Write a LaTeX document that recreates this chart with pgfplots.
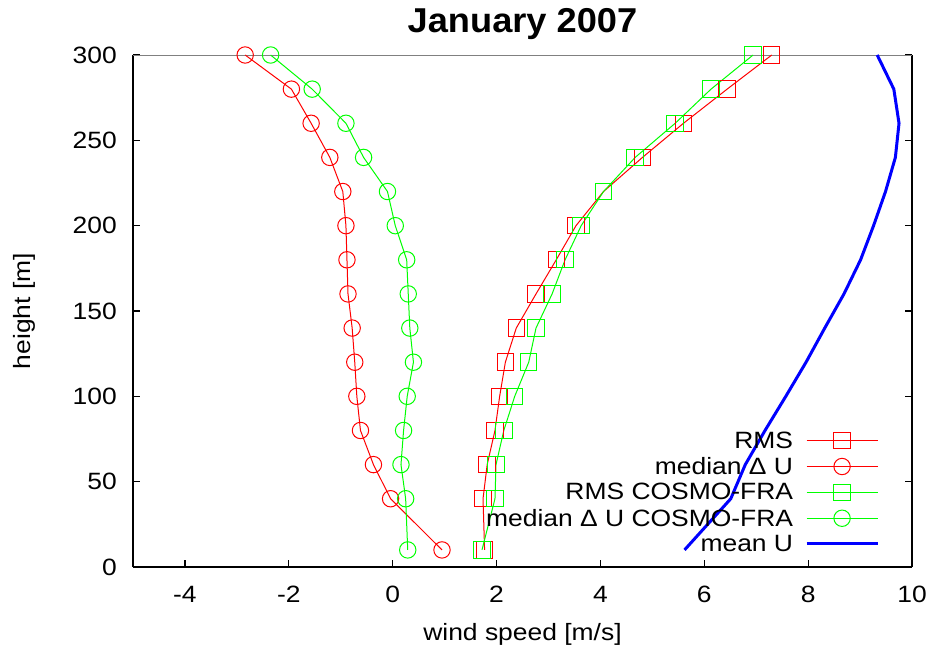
\documentclass[border=0pt]{standalone}
\usepackage{fontspec}
\setmainfont{Liberation Sans}[FakeStretch=1.12]
\newfontfamily\titlefont{Liberation Sans}[FakeStretch=1.05]
\usepackage{pgfplots}
\pgfplotsset{compat=1.18}
\usepackage{pgfplotstable}

% wind profile statistics, January 2007 (heights in m, speeds in m/s)
\pgfplotstableread{
h    medDU  medCF  rms   rmsCF  meanU
10    0.95   0.29  1.77  1.72   5.62
40   -0.04   0.25  1.74  1.97   6.51
60   -0.37   0.16  1.82  1.99   6.79
80   -0.62   0.21  1.97  2.14   7.17
100  -0.69   0.28  2.06  2.35   7.57
120  -0.73   0.40  2.17  2.62   7.96
140  -0.78   0.33  2.38  2.76   8.32
160  -0.86   0.30  2.76  3.07   8.69
180  -0.88   0.27  3.15  3.32   9.01
200  -0.90   0.05  3.53  3.63   9.26
220  -0.96  -0.10  4.06  4.06   9.49
240  -1.21  -0.56  4.81  4.67   9.68
260  -1.57  -0.90  5.60  5.44   9.75
280  -1.95  -1.55  6.44  6.13   9.65
300  -2.84  -2.35  7.30  6.94   9.33
}\profile

\newcommand{\lblfont}{\fontsize{23.6bp}{28bp}\selectfont}

\begin{document}
\begin{tikzpicture}
\useasboundingbox (-133bp,-84bp) rectangle (800bp,567bp);
\begin{axis}[
  at={(0,0)}, anchor=south west,
  scale only axis, width=779bp, height=512bp,
  xmin=-5, xmax=10, ymin=0, ymax=300,
  xtick={-4,-2,...,10}, ytick={0,50,...,300},
  axis x line*=bottom, axis y line*=box,
  axis line style={-, line width=1.5bp, black},
  tick align=inside, major tick length=7bp,
  tick style={line width=1.2bp, black},
  ytick pos=both,
  /pgf/number format/assume math mode=true,
  tick label style={font=\lblfont},
  xticklabel style={inner sep=0pt, anchor=north, yshift=-19bp},
  yticklabel style={inner sep=0pt, anchor=east, xshift=-16bp},
  title={January 2007},
  every axis title shift=0pt,
  title style={at={(axis description cs:0.5,1.043)}, anchor=base,
    font=\titlefont\fontsize{34.5bp}{40bp}\selectfont\bfseries},
  xlabel={wind speed [m/s]},
  xlabel style={at={(axis description cs:0.5,-0.1426)}, anchor=base, font=\lblfont},
  ylabel={height [m]},
  ylabel style={at={(axis description cs:-0.1322,0.5)}, anchor=base, rotate=0, font=\lblfont},
  legend cell align=right, legend plot pos=right,
  legend style={at={(axis cs:9.37,7.0)}, anchor=south east, draw=none, fill=none,
    inner sep=0pt, font=\lblfont, row sep=3.6bp, column sep=10bp},
  legend image code/.code={%
    \draw[mark repeat=2, mark phase=2] plot coordinates {(0bp,0bp) (35.5bp,0bp) (71bp,0bp)};},
  clip=false,
]
% top border in light grey
\draw[gray, line width=0.8bp] (rel axis cs:0,1) -- (rel axis cs:1,1);

\addplot[color=red, line width=1bp, mark=square, mark size=8.2bp, mark options={solid}]
  table[x=rms, y=h]{\profile};
\addlegendentry{RMS}
\addplot[color=red, line width=1bp, mark=o, mark size=8.2bp, mark options={solid}]
  table[x=medDU, y=h]{\profile};
\addlegendentry{median Δ U}
\addplot[color=green, line width=1bp, mark=square, mark size=8.2bp, mark options={solid}]
  table[x=rmsCF, y=h]{\profile};
\addlegendentry{RMS COSMO-FRA}
\addplot[color=green, line width=1bp, mark=o, mark size=8.2bp, mark options={solid}]
  table[x=medCF, y=h]{\profile};
\addlegendentry{median Δ U COSMO-FRA}
\addplot[color=blue, line width=3bp, no marks]
  table[x=meanU, y=h]{\profile};
\addlegendentry{mean U}
\end{axis}
\end{tikzpicture}
\end{document}
